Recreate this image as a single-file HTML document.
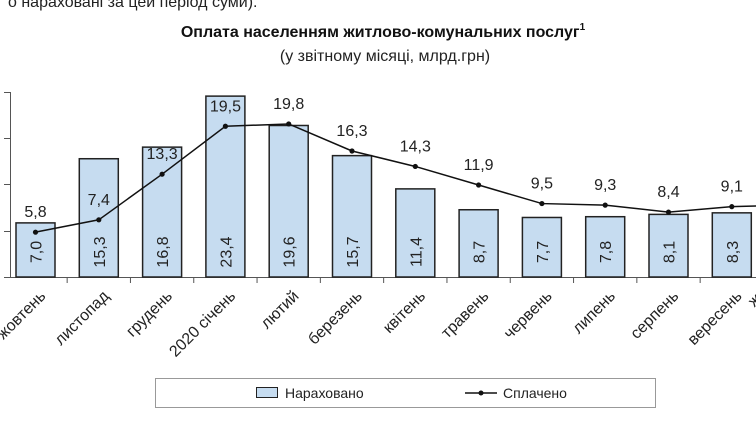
<!DOCTYPE html>
<html><head><meta charset="utf-8"><style>
html,body{margin:0;padding:0;background:#fff;width:756px;height:422px;overflow:hidden}
svg{display:block;font-family:"Liberation Sans","DejaVu Sans",sans-serif}
</style></head><body>
<svg width="756" height="422" viewBox="0 0 756 422">
<text x="8" y="7" font-size="16" fill="#222">о нараховані за цей період суми).</text>
<text x="383" y="37" text-anchor="middle" font-size="16" font-weight="bold" fill="#111">Оплата населенням житлово-комунальних послуг<tspan font-size="10" dy="-7">1</tspan></text>
<text x="385" y="61" text-anchor="middle" font-size="16" fill="#222">(у звітному місяці, млрд.грн)</text>
<g stroke="#555" stroke-width="1">
<line x1="10.5" y1="92" x2="10.5" y2="277"/>
<line x1="4" y1="92.5" x2="10" y2="92.5"/><line x1="4" y1="138.5" x2="10" y2="138.5"/><line x1="4" y1="184.5" x2="10" y2="184.5"/><line x1="4" y1="231.5" x2="10" y2="231.5"/>
<line x1="4" y1="277.5" x2="756" y2="277.5"/>
</g>
<g id="g"></g>
<g stroke="#999"><rect x="155.5" y="378.5" width="500" height="29" fill="#fff"/></g>
<rect x="256.5" y="387.5" width="21" height="10" fill="#c6dcf0" stroke="#222"/>
<text x="285" y="398" font-size="14" fill="#222">Нараховано</text>
<line x1="465" y1="393" x2="497" y2="393" stroke="#111" stroke-width="1.5"/><circle cx="481" cy="393" r="2.5" fill="#111"/>
<text x="503" y="398" font-size="14" fill="#222">Сплачено</text>
</svg>
<script>
const bars=[7.0,15.3,16.8,23.4,19.6,15.7,11.4,8.7,7.7,7.8,8.1,8.3];
const line=[5.8,7.4,13.3,19.5,19.8,16.3,14.3,11.9,9.5,9.3,8.4,9.1];
const cats=["жовтень","листопад","грудень","2020 січень","лютий","березень","квітень","травень","червень","липень","серпень","вересень"];
const s=7.73,b=277,sp=63.3,c0=35.5;let h="";let pts=[];
for(let i=0;i<12;i++){const cx=c0+i*sp,top=b-bars[i]*s;
h+=`<rect x="${cx-19.5}" y="${top}" width="39" height="${b-top}" fill="#c6dcf0" stroke="#222" stroke-width="1.5"/>`;
h+=`<text transform="translate(${cx+6},252) rotate(-90)" text-anchor="middle" font-size="16" fill="#222">${String(bars[i]).replace('.',',').replace(/^(\d+)$/,'$1,0')}</text>`;
h+=`<line x1="${cx+sp/2}" y1="277" x2="${cx+sp/2}" y2="283" stroke="#555"/>`;
h+=`<text transform="translate(${cx+11},297) rotate(-45)" text-anchor="end" font-size="16" fill="#222">${cats[i]}</text>`;
const y=b-line[i]*s;pts.push(cx+','+y);
h+=`<text x="${cx}" y="${y-15}" text-anchor="middle" font-size="16" fill="#222">${String(line[i]).replace('.',',')}</text>`;}
pts.push('760,'+(b-9.2*s));
h+=`<polyline points="${pts.join(' ')}" fill="none" stroke="#111" stroke-width="1.5"/>`;
pts.slice(0,12).forEach(p=>{const[x,y]=p.split(',');h+=`<circle cx="${x}" cy="${y}" r="2.6" fill="#111"/>`});
h+=`<text transform="translate(762,300) rotate(-45)" text-anchor="end" font-size="16" fill="#222">ж</text>`;
document.getElementById('g').innerHTML=h;
</script>
</body></html>
